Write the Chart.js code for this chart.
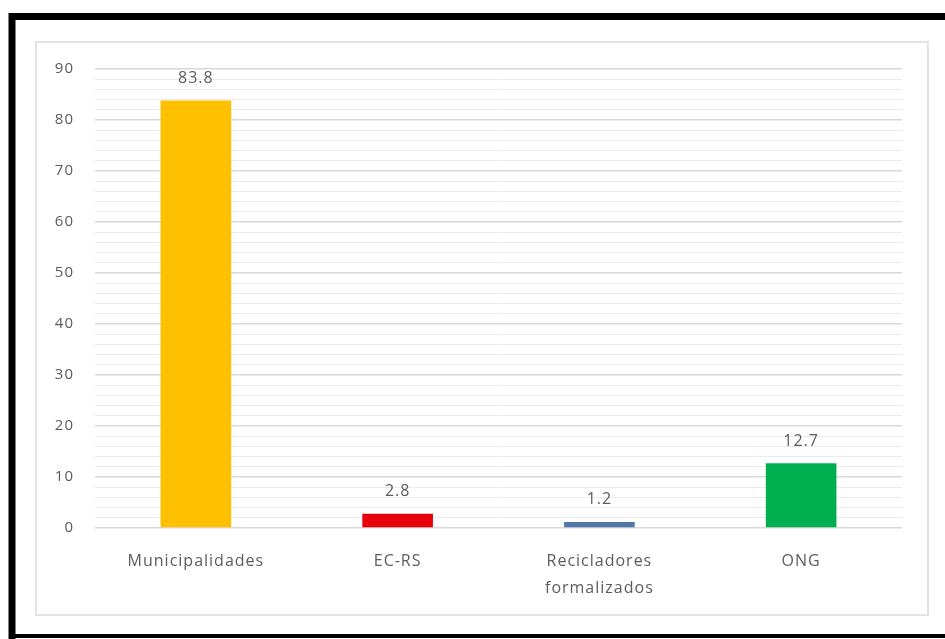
<!DOCTYPE html>
<html>
<head>
<meta charset="utf-8">
<script src="https://cdn.jsdelivr.net/npm/chart.js@4/dist/chart.umd.min.js"></script>
<style>
html,body{margin:0;padding:0;background:#fff;}
#wrap{position:absolute;left:0;top:0;width:945px;height:639px;}
</style>
</head>
<body>
<div id="wrap"><canvas id="c" width="945" height="639"></canvas></div>
<script>
const categories = [["Municipalidades"], ["EC-RS"], ["Recicladores", "formalizados"], ["ONG"]];
const values = [83.8, 2.8, 1.2, 12.7];
const barColors = ["#FFC000", "#E8000B", "#4F77A8", "#00B050"];
const yMin = 0, yMax = 90, yMajorStep = 10, yMinorStep = 2;

const FONT = "'Open Sans', Lato, sans-serif";
const TEXT = "#5c5c5c";

const framePlugin = {
  id: 'frame',
  beforeDraw(chart) {
    const ctx = chart.ctx;
    ctx.save();
    ctx.fillStyle = '#fff';
    ctx.fillRect(0, 0, chart.width, chart.height);
    ctx.strokeStyle = '#000';
    ctx.lineWidth = 7;
    ctx.beginPath();
    ctx.moveTo(12, 640);
    ctx.lineTo(12, 16.5);
    ctx.lineTo(950, 16.5);
    ctx.stroke();
    ctx.lineWidth = 4;
    ctx.beginPath();
    ctx.moveTo(10, 636);
    ctx.lineTo(950, 636);
    ctx.stroke();
    ctx.strokeStyle = '#e3e3e3';
    ctx.lineWidth = 2;
    ctx.strokeRect(36, 42, 892, 573);
    ctx.restore();
    try { ctx.letterSpacing = '1px'; } catch (e) {}
  }
};

const labelPlugin = {
  id: 'valueLabels',
  afterDatasetsDraw(chart) {
    const ctx = chart.ctx;
    const meta = chart.getDatasetMeta(0);
    ctx.save();
    ctx.font = "16px " + FONT;
    ctx.fillStyle = TEXT;
    ctx.textAlign = 'center';
    ctx.textBaseline = 'middle';
    meta.data.forEach((bar, i) => {
      ctx.fillText(values[i].toFixed(1), bar.x, bar.y - 22);
    });
    ctx.restore();
  }
};

new Chart(document.getElementById('c'), {
  type: 'bar',
  data: {
    labels: categories,
    datasets: [{
      data: values,
      backgroundColor: barColors,
      borderWidth: 0,
      barPercentage: 0.35,
      categoryPercentage: 1.0
    }]
  },
  options: {
    responsive: false,
    animation: false,
    devicePixelRatio: 1,
    layout: { padding: { left: 40, right: 43, top: 69, bottom: 31 } },
    plugins: { legend: { display: false }, tooltip: { enabled: false } },
    scales: {
      x: {
        grid: { display: false, drawTicks: false },
        border: { display: false },
        ticks: {
          color: TEXT,
          font: { family: FONT, size: 16, lineHeight: 1.7 },
          padding: 20,
          maxRotation: 0,
          autoSkip: false
        },
        afterFit(scale) { scale.height = 80; }
      },
      y: {
        min: yMin,
        max: yMax,
        grid: {
          drawTicks: false,
          color(ctx) {
            const v = ctx.tick ? ctx.tick.value : 0;
            return (Math.abs(v % yMajorStep) < 1e-6) ? '#d9d9d9' : '#ebebeb';
          },
          lineWidth(ctx) {
            const v = ctx.tick ? ctx.tick.value : 0;
            return (Math.abs(v % yMajorStep) < 1e-6) ? 1.5 : 1;
          }
        },
        border: { display: false },
        ticks: {
          stepSize: yMinorStep,
          autoSkip: false,
          color: TEXT,
          font: { family: FONT, size: 15 },
          padding: 21,
          callback(v) { return (Math.abs(v % yMajorStep) < 1e-6) ? String(v) : ''; }
        },
        afterFit(scale) { scale.width = 55; }
      }
    }
  },
  plugins: [framePlugin, labelPlugin]
});
</script>
</body>
</html>
